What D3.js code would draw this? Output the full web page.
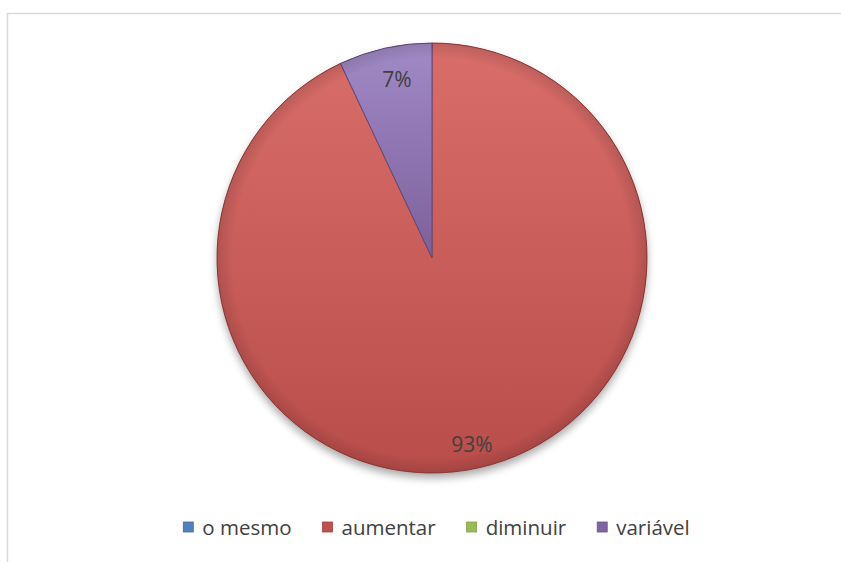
<!DOCTYPE html>
<html><head><meta charset="utf-8">
<script src="https://cdn.jsdelivr.net/npm/d3@7"></script>
<style>body{margin:0;background:#fff}svg{display:block}</style>
</head><body>
<script>
const categories = ["o mesmo", "aumentar", "diminuir", "variável"];
const values = [0, 93, 0, 7];
const labels = ["", "93%", "", "7%"];
const colors = ["#4f81bd", "#c0504d", "#9bbb59", "#8064a2"];
const lightColors = ["#7ea3d6", "#d86d69", "#b8d67e", "#a18ac6"];

const W = 841, H = 562;
const FONT = "'Open Sans', Lato, sans-serif";
const svg = d3.select("body").append("svg").attr("width", W).attr("height", H);
const defs = svg.append("defs");

// chart frame
svg.append("rect").attr("x", 7.5).attr("y", 13.5).attr("width", 860).attr("height", 600)
  .attr("fill", "#fff").attr("stroke", "#d9d9d9").attr("stroke-width", 1.5);

const cx = 432, cy = 258, r = 215;

defs.append("filter").attr("id", "sh").attr("x", "-20%").attr("y", "-20%").attr("width", "140%").attr("height", "140%")
  .call(f => {
    f.append("feGaussianBlur").attr("in", "SourceAlpha").attr("stdDeviation", 4);
    f.append("feOffset").attr("dx", 0).attr("dy", 5).attr("result", "o");
    f.append("feComponentTransfer").call(c => c.append("feFuncA").attr("type", "linear").attr("slope", 0.35));
    f.append("feMerge").call(m => { m.append("feMergeNode"); m.append("feMergeNode").attr("in", "SourceGraphic"); });
  });

colors.forEach((c, i) => {
  const l = defs.append("linearGradient").attr("id", "l" + i).attr("x1", 0).attr("y1", 0).attr("x2", 0).attr("y2", 1);
  l.append("stop").attr("offset", "0%").attr("stop-color", lightColors[i]);
  l.append("stop").attr("offset", "100%").attr("stop-color", d3.color(c).darker(0.1));
});
// edge bevel
const bev = defs.append("radialGradient").attr("id", "bev")
  .attr("gradientUnits", "userSpaceOnUse").attr("cx", 0).attr("cy", 0).attr("r", r);
bev.append("stop").attr("offset", "0%").attr("stop-color", "#000").attr("stop-opacity", 0);
bev.append("stop").attr("offset", "93%").attr("stop-color", "#000").attr("stop-opacity", 0);
bev.append("stop").attr("offset", "100%").attr("stop-color", "#000").attr("stop-opacity", 0.12);

const data = categories.map((c, i) => ({ cat: c, value: values[i], i }));
const pie = d3.pie().sort(null).value(d => d.value);
const arcs = pie(data);
const arc = d3.arc().innerRadius(0).outerRadius(r);

const g = svg.append("g").attr("transform", `translate(${cx},${cy})`);
g.append("circle").attr("r", r).attr("fill", "#c0504d").attr("filter", "url(#sh)");
g.selectAll("path.s").data(arcs.filter(a => a.data.value > 0)).join("path")
  .attr("class", "s")
  .attr("d", arc)
  .attr("fill", d => `url(#l${d.data.i})`)
  .attr("stroke", d => d3.color(colors[d.data.i]).darker(0.8))
  .attr("stroke-width", 1);
g.append("circle").attr("r", r).attr("fill", "url(#bev)").attr("pointer-events", "none");

// label offsets (relative to centre)
const labOffset = { 1: [40, 187], 3: [-35, -178] };
g.selectAll("text.lab").data(arcs.filter(a => a.data.value > 0)).join("text")
  .attr("class", "lab")
  .attr("transform", d => `translate(${labOffset[d.data.i][0]},${labOffset[d.data.i][1]})`)
  .attr("text-anchor", "middle").attr("dy", "0.35em")
  .style("font-family", FONT).style("font-size", "21px")
  .attr("fill", "#404040")
  .text(d => labels[d.data.i]);

// legend, laid out sequentially and centred
const leg = svg.append("g").attr("transform", "translate(0,528)");
const items = leg.selectAll("g").data(data).join("g");
items.append("rect").attr("x", 0).attr("y", -6).attr("width", 10).attr("height", 10)
  .attr("fill", d => colors[d.i]).attr("stroke", d => d3.color(colors[d.i]).darker(0.5)).attr("stroke-width", 0.8);
items.append("text").attr("x", 19).attr("dy", "0.32em")
  .style("font-family", FONT).style("font-size", "20.5px")
  .attr("fill", "#404040").text(d => d.cat);
let widths = [];
items.each(function () { widths.push(19 + d3.select(this).select("text").node().getComputedTextLength()); });
const gap = 31;
const total = d3.sum(widths) + gap * (widths.length - 1);
let x = 436.5 - total / 2;
items.attr("transform", (d, i) => { const t = `translate(${x},0)`; x += widths[i] + gap; return t; });
</script>
</body></html>
